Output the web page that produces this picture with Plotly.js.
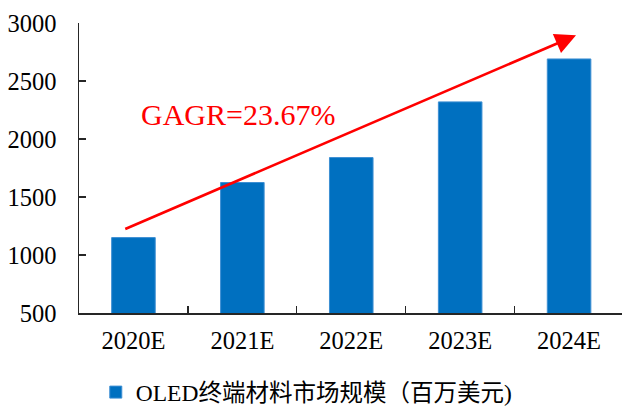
<!DOCTYPE html>
<html>
<head>
<meta charset="utf-8">
<script src="https://cdn.plot.ly/plotly-3.0.1.min.js"></script>
<style>html,body{margin:0;padding:0;background:#fff;}#chart{width:622px;height:407px;}</style>
</head>
<body>
<div id="chart"></div>
<script>
const categories = ['2020E', '2021E', '2022E', '2023E', '2024E'];
const marketSize = [1150, 1625, 1840, 2320, 2690];
const seriesName = 'OLED终端材料市场规模（百万美元)';
const yTicks = [500, 1000, 1500, 2000, 2500, 3000];
const cagrLabel = 'GAGR=23.67%';

const serif = '"Liberation Serif", "Times New Roman", "Noto Sans CJK SC", serif';

const trace = {
  type: 'bar',
  x: categories,
  y: marketSize,
  name: seriesName,
  width: 0.4,
  marker: {color: '#0070C0', line: {color: '#3d8fd3', width: 1}},
  showlegend: true
};

const layout = {
  width: 622,
  height: 407,
  margin: {l: 79, r: 0, t: 23, b: 94},
  paper_bgcolor: '#fff',
  plot_bgcolor: '#fff',
  font: {family: serif, color: '#000', size: 24},
  bargap: 0.6,
  xaxis: {
    type: 'category',
    range: [-0.5, 4.486],
    showline: true, linecolor: '#262626', linewidth: 1.5,
    ticks: 'inside', ticklen: 7, tickwidth: 1.2, tickcolor: '#262626',
    tickson: 'boundaries',
    showgrid: false, zeroline: false,
    ticklabelstandoff: 5,
    tickfont: {family: serif, size: 24.5, color: '#000'}
  },
  yaxis: {
    range: [500, 3000],
    tickvals: yTicks,
    showline: true, linecolor: '#262626', linewidth: 1.5,
    ticks: 'inside', ticklen: 7, tickwidth: 1.2, tickcolor: '#262626',
    showgrid: false, zeroline: false,
    ticklabelstandoff: 16,
    tickfont: {family: serif, size: 24.5, color: '#000'}
  },
  showlegend: true,
  legend: {
    orientation: 'h',
    xref: 'container', yref: 'container',
    x: 0.154, y: 0.036,
    xanchor: 'left', yanchor: 'middle',
    font: {family: serif, size: 23.5, color: '#000'},
    itemwidth: 30,
    borderwidth: 0,
    bgcolor: 'rgba(0,0,0,0)'
  },
  annotations: [
    {
      x: 4.064, y: 2894, xref: 'x', yref: 'y',
      ax: -0.089, ay: 1219, axref: 'x', ayref: 'y',
      showarrow: true, arrowhead: 2, arrowsize: 1.6, arrowwidth: 2.6,
      arrowcolor: '#FF0000', text: ''
    },
    {
      x: 0.959, y: 2213, xref: 'x', yref: 'y',
      text: cagrLabel, showarrow: false,
      font: {family: serif, size: 30, color: '#FF0000'}
    }
  ]
};

Plotly.newPlot('chart', [trace], layout, {displayModeBar: false, staticPlot: true});
</script>
</body>
</html>
